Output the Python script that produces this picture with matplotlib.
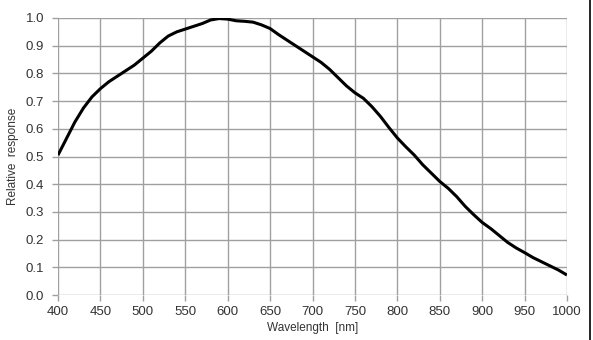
"""Relative spectral response curve of a sensor."""

import matplotlib

matplotlib.use("Agg")
import matplotlib.pyplot as plt
from matplotlib.lines import Line2D

wavelength = [
    400, 410, 420, 430, 440, 450, 460, 470, 480, 490,
    500, 510, 520, 530, 540, 550, 560, 570, 580, 590,
    600, 610, 620, 630, 640, 650, 660, 670, 680, 690,
    700, 710, 720, 730, 740, 750, 760, 770, 780, 790,
    800, 810, 820, 830, 840, 850, 860, 870, 880, 890,
    900, 910, 920, 930, 940, 950, 960, 970, 980, 990, 1000,
]
response = [
    0.505, 0.565, 0.625, 0.675, 0.715, 0.745, 0.770, 0.790, 0.810, 0.830,
    0.855, 0.880, 0.910, 0.935, 0.950, 0.960, 0.970, 0.980, 0.993, 0.998,
    0.996, 0.990, 0.988, 0.985, 0.975, 0.962, 0.940, 0.920, 0.900, 0.880,
    0.860, 0.840, 0.815, 0.785, 0.755, 0.730, 0.710, 0.680, 0.645, 0.605,
    0.567, 0.535, 0.505, 0.470, 0.440, 0.410, 0.385, 0.355, 0.320, 0.290,
    0.262, 0.240, 0.215, 0.190, 0.170, 0.153, 0.135, 0.120, 0.105, 0.090, 0.072,
]
x_ticks = list(range(400, 1001, 50))
y_ticks = [i / 10 for i in range(11)]

plt.rcParams["font.family"] = ["Liberation Sans", "DejaVu Sans"]

fig = plt.figure(figsize=(5.93, 3.40), dpi=100)
ax = fig.add_axes([58 / 593, 45 / 340, 509 / 593, 277 / 340])

ax.plot(wavelength, response, color="black", linewidth=2.2, solid_capstyle="butt")

ax.set_xlim(400, 1000)
ax.set_ylim(0, 1.0)
ax.set_xticks(x_ticks)
ax.set_yticks(y_ticks)
ax.set_yticklabels([f"{v:.1f}" for v in y_ticks])
ax.grid(True, color="#a0a0a0", linewidth=1.0)
ax.set_axisbelow(True)
for spine in ax.spines.values():
    spine.set_visible(False)
ax.tick_params(colors="#a0a0a0", labelcolor="#333333", labelsize=9.5,
               length=4, width=1.0)
ax.tick_params(axis="x", pad=4)
ax.tick_params(axis="y", pad=6)

ax.set_xlabel("Wavelength  [nm]", fontsize=8.5, color="#333333", labelpad=3)
ax.set_ylabel("Relative  response", fontsize=8.5, color="#333333", labelpad=5)

# frame line at the right edge of the picture
fig.add_artist(Line2D([590 / 593, 590 / 593], [0, 1], color="black", linewidth=1.2))

fig.savefig("out.png", dpi=100)
